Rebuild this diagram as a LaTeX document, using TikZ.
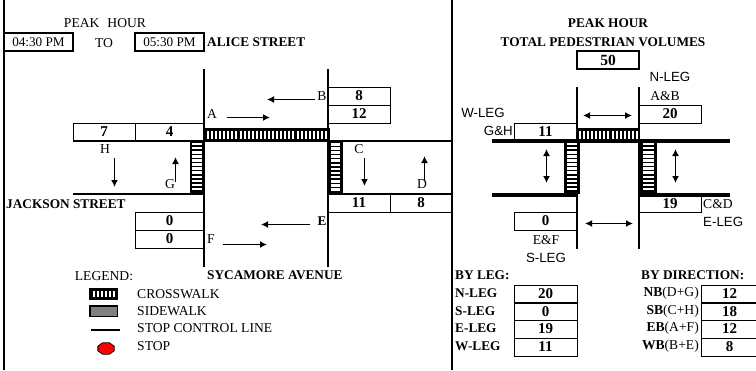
\documentclass[tikz,border=0pt]{standalone}
\usepackage{fontspec}
\setmainfont{Liberation Serif}
\setsansfont{Liberation Sans}
\usetikzlibrary{arrows.meta, shapes.geometric}

\begin{document}
\begin{tikzpicture}[
    x=1pt, y=-1pt,
    txt/.style={inner sep=0pt, font=\fontsize{13.6}{15}\selectfont},
    leg/.style={inner sep=0pt, font=\fontsize{13.3}{15}\selectfont\bfseries},
    sanstxt/.style={inner sep=0pt, font=\fontsize{13.3}{15}\selectfont\sffamily},
    cell/.style={draw, line width=1pt, inner sep=0pt, minimum width=62pt, minimum height=18pt, font=\fontsize{15}{16}\selectfont\bfseries},
    timebox/.style={draw, line width=1.8pt, inner sep=0pt, minimum width=69pt, minimum height=18pt, font=\fontsize{13.2}{15}\selectfont},
    road/.style={line width=1.8pt},
    stopline/.style={line width=3.2pt},
    flow/.style={line width=1.7pt, -{Latex[length=7pt, width=7pt]}},
    both/.style={line width=1.7pt, {Latex[length=7pt, width=7pt]}-{Latex[length=7pt, width=7pt]}},
    walk/.style={fill=black, draw=none},
    bar/.style={fill=white, draw=none},
]
\useasboundingbox (0,0) rectangle (756,370);

% frame
\coordinate (ftop) at (4,0);
\coordinate (fbot) at (4,370);
\coordinate (dtop) at (452,0);
\coordinate (dbot) at (452,370);
\draw[road] (ftop) -- (fbot);
\draw[road] (dtop) -- (dbot);

% header
\node[txt] (peak) at (105,23) {PEAK\hspace{8pt}HOUR};
\node[timebox] (tstart) at (38.5,42) {04:30 PM};
\node[txt] (tto) at (104,43) {TO};
\node[timebox] (tend) at (169.5,42) {05:30 PM};
\node[leg, anchor=west] (alice) at (207,42) {ALICE STREET};
\node[leg, anchor=west] (jackson) at (6,204) {JACKSON STREET};
\node[leg, anchor=west] (sycamore) at (207,275) {SYCAMORE AVENUE};

% count boxes
\node[cell] (cb) at (359,96) {8};
\node[cell] (cb2) at (359,114) {12};
\node[cell] (ch) at (104,132) {7};
\node[cell, minimum width=69pt] (cg) at (169.5,132) {4};
\node[cell] (cc) at (359,203) {11};
\node[cell] (cd) at (421,203) {8};
\node[cell, minimum width=69pt] (ce) at (169.5,221) {0};
\node[cell, minimum width=69pt] (cf) at (169.5,239) {0};

% streets
\coordinate (w1) at (204,69);
\coordinate (w2) at (204,267);
\coordinate (e1) at (328,69);
\coordinate (e2) at (328,267);
\coordinate (nw) at (73,141);
\coordinate (nw2) at (204,141);
\coordinate (ne) at (328,141);
\coordinate (ne2) at (452,141);
\coordinate (sw) at (73,194);
\coordinate (sw2) at (204,194);
\coordinate (se) at (328,194);
\coordinate (se2) at (452,194);
\draw[road] (w1) -- (w2);
\draw[road] (e1) -- (e2);
\draw[road] (nw) -- (nw2);
\draw[road] (ne) -- (ne2);
\draw[road] (sw) -- (sw2);
\draw[road] (se) -- (se2);

% crosswalks
\fill[walk] (204,127.5) rectangle (330,142);
\foreach \i in {0,...,29} \fill[bar] (207+4.07*\i,130.5) rectangle ++(2,8.8);
\fill[walk] (189.5,141) rectangle (205,194);
\foreach \i in {0,...,11} \fill[bar] (192.3,142.7+4.1*\i) rectangle ++(9.4,2.6);
\fill[walk] (327.5,141) rectangle (343,195);
\foreach \i in {0,...,11} \fill[bar] (330.5,143+4.1*\i) rectangle ++(9.4,2.6);

% movement labels
\node[txt] (la) at (212,114) {A};
\node[txt] (lb) at (322,96) {B};
\node[txt] (lc) at (359,149) {C};
\node[txt] (ld) at (422,184) {D};
\node[leg] (le) at (322,221) {E};
\node[txt] (lf) at (211,239) {F};
\node[txt] (lg) at (170,184) {G};
\node[txt] (lh) at (105,149) {H};

% movement arrows
\coordinate (a1) at (227,117.5);\coordinate (a2) at (270,117.5);
\coordinate (b1) at (315,99.5); \coordinate (b2) at (267,99.5);
\coordinate (c1) at (364.5,158);\coordinate (c2) at (364.5,186);
\coordinate (d1) at (424.5,180);\coordinate (d2) at (424.5,156);
\coordinate (e3) at (310,224.5);\coordinate (e4) at (261,224.5);
\coordinate (f1) at (223,244.5);\coordinate (f2) at (267,244.5);
\coordinate (g1) at (175.5,182);\coordinate (g2) at (175.5,157);
\coordinate (h1) at (114.5,158);\coordinate (h2) at (114.5,187);
\draw[flow] (a1) -- (a2);
\draw[flow] (b1) -- (b2);
\draw[flow] (c1) -- (c2);
\draw[flow] (d1) -- (d2);
\draw[flow] (e3) -- (e4);
\draw[flow] (f1) -- (f2);
\draw[flow] (g1) -- (g2);
\draw[flow] (h1) -- (h2);

% legend
\node[txt] (legend) at (104,276) {LEGEND:};
\fill[walk] (89,287.5) rectangle (118,299.5);
\foreach \i in {0,...,5} \fill[bar] (93+3.9*\i,291) rectangle ++(2,6);
\draw[line width=1.8pt, fill=gray] (90,306) rectangle (117.5,316.5);
\coordinate (sl1) at (91,330);
\coordinate (sl2) at (120,330);
\draw[line width=2.4pt] (sl1) -- (sl2);
\node[draw, line width=0.8pt, fill=red, regular polygon, regular polygon sides=8, inner sep=0pt, minimum size=13pt, xscale=1.35, yscale=0.95] (stopsign) at (106,348.5) {};
\node[txt, anchor=west] (lcross) at (137,294) {CROSSWALK};
\node[txt, anchor=west] (lside) at (137,311) {SIDEWALK};
\node[txt, anchor=west] (lline) at (137,328) {STOP CONTROL LINE};
\node[txt, anchor=west] (lstop) at (137,346) {STOP};

% totals title
\node[leg] (ttitle) at (608,23) {PEAK HOUR};
\node[leg] (ttitle2) at (603,42) {TOTAL PEDESTRIAN VOLUMES};
\node[timebox, minimum width=62pt, font=\fontsize{15.5}{16}\selectfont\bfseries] (total) at (608,60) {50};

% totals intersection
\node[cell] (tn) at (670,114) {20};
\node[cell, minimum width=63pt] (tw) at (545.5,132) {11};
\node[cell] (te) at (670,203.5) {19};
\node[cell, minimum width=63pt] (ts) at (545.5,221) {0};
\coordinate (tw1) at (577,87);
\coordinate (tw2) at (577,249);
\coordinate (te1) at (639,87);
\coordinate (te2) at (639,249);
\coordinate (tl1) at (492,141);
\coordinate (tl2) at (730,141);
\coordinate (tl3) at (492,195);
\coordinate (tl4) at (577,195);
\coordinate (tl5) at (639,195);
\coordinate (tl6) at (730,195);
\draw[road] (tw1) -- (tw2);
\draw[road] (te1) -- (te2);
\fill[walk] (564,141) rectangle (580,194);
\foreach \i in {0,...,11} \fill[bar] (566.7,142.7+4.1*\i) rectangle ++(10.6,2.6);
\fill[walk] (639,141) rectangle (657,194);
\foreach \i in {0,...,11} \fill[bar] (643,142.7+4.1*\i) rectangle ++(11,2.6);
\draw[stopline] (tl1) -- (tl2);
\draw[stopline] (tl3) -- (tl4);
\draw[stopline] (tl5) -- (tl6);
\fill[walk] (576,128) rectangle (640,141);
\foreach \i in {0,...,14} \fill[bar] (579+4.07*\i,131) rectangle ++(2,8);

\coordinate (q1) at (583,115.5);\coordinate (q2) at (632,115.5);
\coordinate (q3) at (546.5,149);\coordinate (q4) at (546.5,183);
\coordinate (q5) at (675.5,149);\coordinate (q6) at (675.5,183);
\coordinate (q7) at (585,223.5);\coordinate (q8) at (633,223.5);
\draw[both] (q1) -- (q2);
\draw[both] (q3) -- (q4);
\draw[both] (q5) -- (q6);
\draw[both] (q7) -- (q8);

\node[sanstxt] (nleg) at (670,77) {N-LEG};
\node[txt] (nab) at (665,96) {A\&B};
\node[sanstxt] (wleg) at (483,113) {W-LEG};
\node[sanstxt, anchor=east] (wgh) at (513,131) {G\&H};
\node[txt, anchor=west] (ecd) at (703,204) {C\&D};
\node[sanstxt, anchor=west] (eleg) at (703,222) {E-LEG};
\node[txt] (sef) at (546,240) {E\&F};
\node[sanstxt] (sleg) at (546,258) {S-LEG};

% by leg
\node[leg, anchor=west] (byleg) at (455,275) {BY LEG:};
\node[leg, anchor=west] (bn) at (455,293.5) {N-LEG};
\node[leg, anchor=west] (bs) at (455,311) {S-LEG};
\node[leg, anchor=west] (be) at (455,328.5) {E-LEG};
\node[leg, anchor=west] (bw) at (455,346.5) {W-LEG};
\node[cell, minimum width=63pt] (vn) at (545.5,294) {20};
\node[cell, minimum width=63pt] (vs) at (545.5,311.5) {0};
\node[cell, minimum width=63pt] (ve) at (545.5,329) {19};
\node[cell, minimum width=63pt] (vw) at (545.5,347) {11};

% by direction
\node[leg, anchor=west] (bydir) at (641,275) {BY DIRECTION:};
\node[txt, anchor=east] (dn) at (699,293.5) {\textbf{NB}(D+G)};
\node[txt, anchor=east] (ds) at (699,311) {\textbf{SB}(C+H)};
\node[txt, anchor=east] (de) at (699,328.5) {\textbf{EB}(A+F)};
\node[txt, anchor=east] (dw) at (699,346.5) {\textbf{WB}(B+E)};
\node[cell, minimum width=57pt] (vnb) at (729.5,294) {12};
\node[cell, minimum width=57pt] (vsb) at (729.5,311.5) {18};
\node[cell, minimum width=57pt] (veb) at (729.5,329) {12};
\node[cell, minimum width=57pt] (vwb) at (729.5,347) {8};
\end{tikzpicture}
\end{document}
